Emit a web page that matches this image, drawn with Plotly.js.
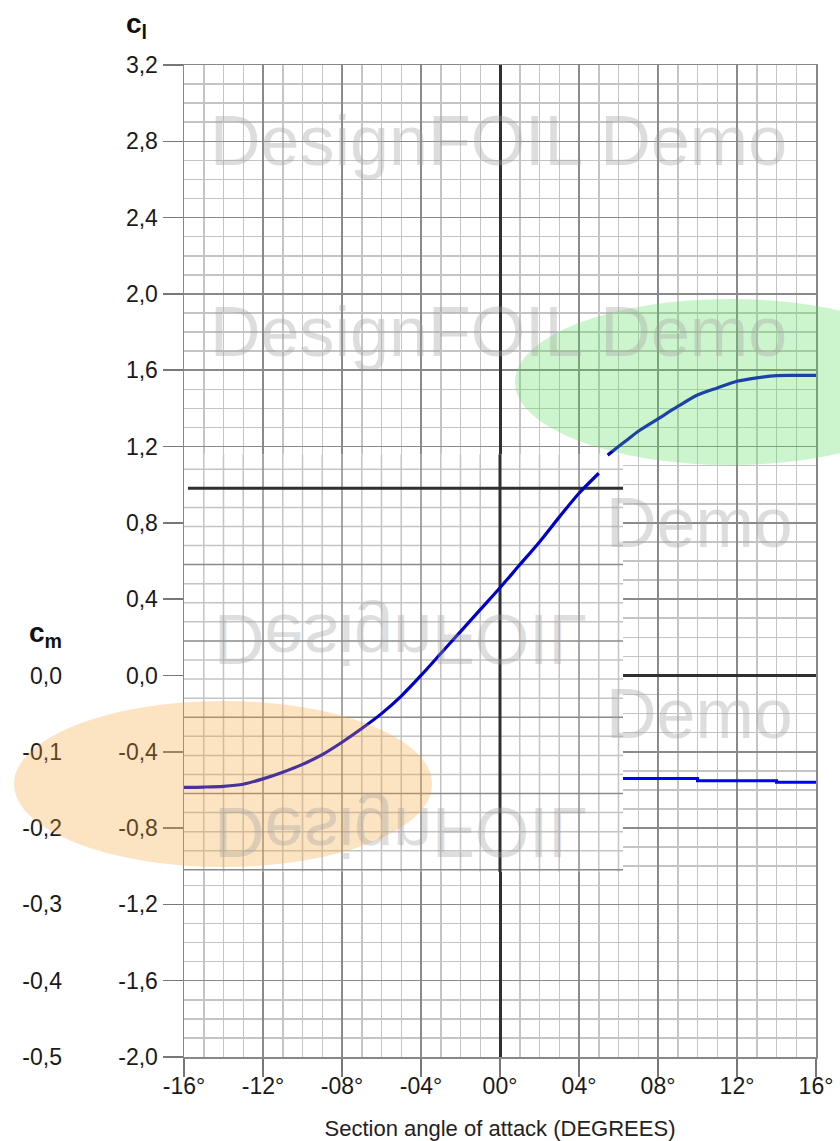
<!DOCTYPE html>
<html><head><meta charset="utf-8">
<script src="https://cdn.plot.ly/plotly-3.0.1.min.js"></script>
<style>html,body{margin:0;padding:0;background:#fff;} #chart{width:840px;height:1141px;}</style>
</head><body><div id="chart"></div>
<script>
// ---------------- data ----------------
// lift coefficient, part of the curve drawn on the pasted inset
const alphaInner = [-16,-15,-14,-13,-12,-11,-10,-9,-8,-7,-6,-5,-4,-3,-2,-1,0,1,2,3,4,5];
const clInner = [-0.587,-0.585,-0.581,-0.570,-0.542,-0.507,-0.466,-0.415,-0.350,-0.278,-0.2,-0.108,0.0,0.115,0.23,0.345,0.46,0.58,0.70,0.83,0.955,1.06];
// lift coefficient, part of the curve outside the inset
const alphaOuter = [5.45,6,6.5,7,8,9,10,11,12,13,14,15,16];
const clOuter = [1.155,1.20,1.24,1.28,1.345,1.41,1.47,1.507,1.542,1.56,1.572,1.573,1.573];
// moment coefficient (visible part)
const alphaCm = [6.23,10,14,16];
const cmValues = [-0.135,-0.138,-0.140,-0.140];

const xTickVals = [-16,-12,-8,-4,0,4,8,12,16];
const xTickText = ['-16°','-12°','-08°','-04°','00°','04°','08°','12°','16°'];
const clTickVals = [3.2,2.8,2.4,2.0,1.6,1.2,0.8,0.4,0,-0.4,-0.8,-1.2,-1.6,-2.0];
const clTickText = ['3,2','2,8','2,4','2,0','1,6','1,2','0,8','0,4','0,0','-0,4','-0,8','-1,2','-1,6','-2,0'];
const cmTickVals = [0,-0.1,-0.2,-0.3,-0.4,-0.5];
const cmTickText = ['0,0','-0,1','-0,2','-0,3','-0,4','-0,5'];

// ---------------- geometry / style ----------------
const W = 840, H = 1141;
const M = {l:20, r:24, t:65, b:84};
const pw = W - M.l - M.r, ph = H - M.t - M.b;
const pxX = px => (px - M.l) / pw;
const pxY = py => (H - M.b - py) / ph;

const tickFont = {family:"'Liberation Sans',Arial,sans-serif", size:23, color:'#1a1a1a'};
const minorCol = '#c4c4c4', majorCol = '#8a8a8a', zeroCol = '#303030';

// inset (pasted white panel with shifted grid)
const ov = {x0:-16, x1:6.23, y0:-1.03, y1:1.16, zero:0.981};
const shapes = [];
const seg = (x0,y0,x1,y1,color,width) => ({type:'line', xref:'x', yref:'y', x0, y0, x1, y1, line:{color, width}, layer:'between'});
shapes.push({type:'rect', xref:'x', yref:'y', x0:ov.x0, x1:ov.x1, y0:ov.y0, y1:ov.y1, fillcolor:'#ffffff', line:{width:0}, layer:'between'});
for (let a = -15; a <= 6; a++) { if (a % 4 !== 0) shapes.push(seg(a, ov.y0, a, ov.y1, minorCol, 1.5)); }
for (let k = -20; k <= 1; k++) { if (k % 4 !== 0) shapes.push(seg(ov.x0, ov.zero + 0.1*k, ov.x1, ov.zero + 0.1*k, minorCol, 1.5)); }
for (const a of [-12,-8,-4,4]) shapes.push(seg(a, ov.y0, a, ov.y1, majorCol, 1.5));
for (const k of [-20,-16,-12,-8,-4]) shapes.push(seg(ov.x0, ov.zero + 0.1*k, ov.x1, ov.zero + 0.1*k, majorCol, 1.5));
shapes.push(seg(0, ov.y0, 0, ov.y1, zeroCol, 3));
shapes.push(seg(ov.x0 + 0.2, ov.zero, ov.x1, ov.zero, zeroCol, 3));

// highlight ellipses
shapes.push({type:'circle', xref:'paper', yref:'paper', x0:pxX(515), x1:pxX(945), y0:pxY(465), y1:pxY(299), fillcolor:'rgb(88,222,88)', opacity:0.3, line:{width:0}, layer:'above'});
shapes.push({type:'circle', xref:'paper', yref:'paper', x0:pxX(14), x1:pxX(432), y0:pxY(867), y1:pxY(701), fillcolor:'rgb(245,165,55)', opacity:0.3, line:{width:0}, layer:'above'});

// ---------------- traces ----------------
const data = [
  {x:alphaInner, y:clInner, type:'scatter', mode:'lines', line:{color:'#0000c8', width:3.2, shape:'spline', smoothing:0.8}, hoverinfo:'skip'},
  {x:alphaOuter, y:clOuter, type:'scatter', mode:'lines', line:{color:'#0000c8', width:3.2, shape:'spline', smoothing:0.8}, hoverinfo:'skip'},
  {x:alphaCm, y:cmValues, type:'scatter', mode:'lines', yaxis:'y2', line:{color:'#0000ff', width:3, shape:'hv'}, hoverinfo:'skip'}
];

// ---------------- annotations ----------------
const wmFont = {family:"'Liberation Sans',Arial,sans-serif", size:70, color:'rgba(160,160,160,0.36)'};
const wm = (text, x, y) => ({text, x, y, xref:'x', yref:'y', xanchor:'left', yanchor:'middle', showarrow:false, font:wmFont});
const annotations = [
  wm('DesignFOIL Demo', -14.78, 2.8),
  wm('DesignFOIL Demo', -14.78, 1.8),
  wm('Demo', 5.27, 0.8),
  wm('Demo', 5.27, -0.2),
  wm('DesignFOIL', -14.6, 0.19),
  wm('DesignFOIL', -14.6, -0.82),
  {text:'<b>c<sub>l</sub></b>', xref:'paper', yref:'paper', x:pxX(136), y:pxY(25), xanchor:'center', yanchor:'middle', showarrow:false, font:{family:"'Liberation Sans',Arial,sans-serif", size:28, color:'#111'}},
  {text:'<b>c<sub>m</sub></b>', xref:'paper', yref:'paper', x:pxX(45), y:pxY(634), xanchor:'center', yanchor:'middle', showarrow:false, font:{family:"'Liberation Sans',Arial,sans-serif", size:28, color:'#111'}}
];
const flipped = [4,5];

const layout = {
  width:W, height:H, margin:M, paper_bgcolor:'#ffffff', plot_bgcolor:'#ffffff', showlegend:false,
  separators:',.',
  xaxis:{domain:[pxX(184),1], range:[-16,16], tickmode:'array', tickvals:xTickVals, ticktext:xTickText,
    ticks:'outside', ticklen:18, tickwidth:1.5, tickcolor:'#777', tickfont:tickFont, ticklabelstandoff:-10,
    showgrid:true, gridcolor:majorCol, gridwidth:1.5,
    minor:{tickmode:'linear', tick0:-16, dtick:1, showgrid:true, gridcolor:minorCol, gridwidth:1.5, ticks:''},
    zeroline:true, zerolinecolor:zeroCol, zerolinewidth:3,
    showline:true, mirror:true, linecolor:'#888', linewidth:1.5,
    title:{text:'Section angle of attack (DEGREES)', font:{family:"'Liberation Sans',Arial,sans-serif", size:22, color:'#222'}, standoff:23},
    automargin:false, fixedrange:true},
  yaxis:{range:[-2,3.2], anchor:'x', tickmode:'array', tickvals:clTickVals, ticktext:clTickText,
    ticks:'outside', ticklen:20, tickwidth:1.5, tickcolor:'#777', tickfont:tickFont,
    showgrid:true, gridcolor:majorCol, gridwidth:1.5,
    minor:{tickmode:'linear', tick0:0, dtick:0.1, showgrid:true, gridcolor:minorCol, gridwidth:1.5, ticks:''},
    zeroline:true, zerolinecolor:zeroCol, zerolinewidth:3,
    showline:true, mirror:true, linecolor:'#888', linewidth:1.5, automargin:false, fixedrange:true},
  yaxis2:{overlaying:'y', anchor:'free', position:pxX(62), side:'left', range:[-0.5,0.8],
    tickmode:'array', tickvals:cmTickVals, ticktext:cmTickText, ticks:'', tickfont:tickFont,
    showgrid:false, zeroline:false, showline:false, automargin:false, fixedrange:true},
  shapes, annotations
};

Plotly.newPlot('chart', data, layout, {staticPlot:true, displayModeBar:false}).then(gd => {
  flipped.forEach(i => {
    const g = gd.querySelector('.annotation[data-index="' + i + '"]');
    if (!g) return;
    const bb = g.getBBox();
    const cy = bb.y + bb.height / 2;
    g.setAttribute('transform', 'translate(0,' + (2*cy) + ') scale(1,-1)');
  });
});
</script>
</body></html>
